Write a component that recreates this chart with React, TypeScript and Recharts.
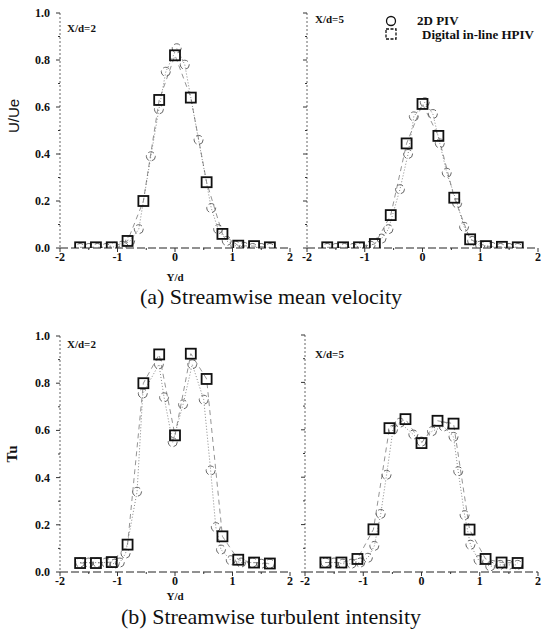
import React from "react";
import { ScatterChart, Scatter, XAxis, YAxis, Legend } from "recharts";

// Y/d stations of the holographic (HPIV) profiles, same in all four panels
const hpivPos = [-1.65, -1.375, -1.1, -0.825, -0.55, -0.275, 0, 0.275, 0.55, 0.825, 1.1, 1.375, 1.65];

// (a) mean velocity U/Ue, X/d = 2
const u2PivPos = [-1.65, -1.5, -1.35, -1.2, -1.05, -0.92, -0.78, -0.63, -0.42, -0.28, -0.16, 0.03, 0.17, 0.41, 0.63, 0.75, 0.9, 1.05, 1.2, 1.35, 1.5, 1.65];
const u2PivVal = [0, 0, 0, 0, 0.005, 0.01, 0.03, 0.08, 0.39, 0.59, 0.75, 0.85, 0.78, 0.46, 0.17, 0.08, 0.03, 0.01, 0.005, 0, 0, 0];
const u2HpivVal = [0.003, 0.003, 0.003, 0.03, 0.2, 0.63, 0.82, 0.64, 0.28, 0.06, 0.01, 0.008, 0.003];

// (a) mean velocity U/Ue, X/d = 5
const u5PivPos = [-1.65, -1.5, -1.35, -1.2, -1.05, -0.9, -0.71, -0.59, -0.39, -0.25, -0.15, 0.04, 0.18, 0.3, 0.42, 0.6, 0.72, 0.86, 1.0, 1.2, 1.35, 1.5, 1.65];
const u5PivVal = [0, 0, 0, 0, 0.003, 0.01, 0.04, 0.08, 0.25, 0.4, 0.56, 0.62, 0.57, 0.445, 0.32, 0.19, 0.09, 0.03, 0.01, 0.005, 0, 0, 0];
const u5HpivVal = [0.003, 0.003, 0.003, 0.017, 0.14, 0.445, 0.613, 0.477, 0.214, 0.037, 0.008, 0.005, 0.003];

// (b) turbulent intensity Tu, X/d = 2
const t2PivPos = [-1.65, -1.5, -1.35, -1.2, -1.05, -0.96, -0.86, -0.66, -0.56, -0.28, -0.19, -0.04, 0.14, 0.3, 0.5, 0.62, 0.71, 0.8, 0.97, 1.15, 1.35, 1.5, 1.65];
const t2PivVal = [0.04, 0.04, 0.04, 0.04, 0.035, 0.04, 0.078, 0.34, 0.756, 0.88, 0.74, 0.55, 0.71, 0.88, 0.73, 0.43, 0.19, 0.095, 0.05, 0.04, 0.04, 0.035, 0.035];
const t2HpivVal = [0.038, 0.038, 0.042, 0.116, 0.8, 0.922, 0.579, 0.925, 0.818, 0.151, 0.052, 0.04, 0.036];

// (b) turbulent intensity Tu, X/d = 5
const t5PivPos = [-1.65, -1.5, -1.35, -1.2, -1.05, -0.92, -0.81, -0.7, -0.6, -0.49, -0.37, -0.14, 0, 0.18, 0.38, 0.55, 0.63, 0.74, 0.84, 0.98, 1.18, 1.35, 1.5, 1.65];
const t5PivVal = [0.04, 0.04, 0.035, 0.035, 0.04, 0.06, 0.11, 0.245, 0.41, 0.6, 0.63, 0.58, 0.55, 0.594, 0.614, 0.57, 0.425, 0.24, 0.115, 0.05, 0.024, 0.03, 0.03, 0.03];
const t5HpivVal = [0.04, 0.04, 0.055, 0.18, 0.607, 0.645, 0.544, 0.638, 0.626, 0.179, 0.055, 0.04, 0.038];

const xTicks = [-2, -1.5, -1, -0.5, 0, 0.5, 1, 1.5, 2];
const xTickLabels = ["-2", "", "-1", "", "0", "", "1", "", "2"];
const yTicks = [0, 0.1, 0.2, 0.3, 0.4, 0.5, 0.6, 0.7, 0.8, 0.9, 1];
const yTickLabels = ["0.0", "", "0.2", "", "0.4", "", "0.6", "", "0.8", "", "1.0"];

const serif = "'Liberation Serif', 'Times New Roman', serif";
const sans = "'Liberation Sans', Arial, sans-serif";

type Pt = { x: number; y: number };
const pairs = (xs: number[], ys: number[]): Pt[] => xs.map((x, i) => ({ x, y: ys[i] }));

function XTick(props: any) {
  const { x, y, payload } = props;
  const label = xTickLabels[xTicks.indexOf(payload.value)];
  return (
    <g>
      <line x1={x} y1={y} x2={x} y2={y + (label ? 4 : 2)} stroke="#333" />
      {label ? (
        <text x={x} y={y + 13} textAnchor="middle" fontSize={12} fontWeight="bold" fontFamily={serif} fill="#111">
          {label}
        </text>
      ) : null}
    </g>
  );
}

const yTick = (showText: boolean) => (props: any) => {
  const { x, y, payload } = props;
  const i = yTicks.findIndex((t) => Math.abs(t - payload.value) < 1e-6);
  const label = yTickLabels[i];
  return (
    <g>
      <line x1={x - (label ? 4 : 2)} y1={y} x2={x} y2={y} stroke="#333" />
      {showText && label ? (
        <text x={x - 10} y={y + 4} textAnchor="end" fontSize={12} fontWeight="bold" fontFamily={serif} fill="#111">
          {label}
        </text>
      ) : null}
    </g>
  );
};

const OpenCircle = (p: any) => (
  <circle cx={p.cx} cy={p.cy} r={4.5} fill="none" stroke="#666" strokeWidth={1} strokeDasharray="6 3" />
);
const OpenSquare = (p: any) => (
  <rect x={p.cx - 5} y={p.cy - 5} width={10} height={10} fill="none" stroke="#111" strokeWidth={1.8} />
);

const legendContent = () => (
  <svg width={180} height={32}>
    <circle cx={14} cy={11} r={4.5} fill="none" stroke="#111" strokeWidth={1.3} />
    <text x={40} y={15} fontSize={13} fontWeight="bold" fontFamily={serif} fill="#111">2D PIV</text>
    <rect x={9} y={19} width={10} height={10} fill="none" stroke="#111" strokeWidth={1.3} strokeDasharray="3 1.5" />
    <text x={45} y={29} fontSize={13} fontWeight="bold" fontFamily={serif} fill="#111">Digital in-line HPIV</text>
  </svg>
);

type PanelProps = {
  left: number;
  top: number;
  width: number;
  right: number;
  xAxisHeight: number;
  piv: Pt[];
  hpiv: Pt[];
  showText: boolean;
  yTitle?: { text: string; x: number; y: number; font: string; size: number; bold: boolean };
  xTitleOffset?: number;
  legend?: boolean;
};

function Panel({ left, top, width, right, xAxisHeight, piv, hpiv, showText, yTitle, xTitleOffset, legend }: PanelProps) {
  return (
    <div style={{ position: "absolute", left, top }}>
      <ScatterChart width={width} height={290} margin={{ top: 13, right, bottom: 0, left: 0 }}>
        <XAxis
          type="number"
          dataKey="x"
          domain={[-2, 2]}
          ticks={xTicks}
          interval={0}
          allowDataOverflow
          height={xAxisHeight}
          tickSize={0}
          tickMargin={0}
          tickLine={false}
          tick={<XTick />}
          axisLine={{ stroke: "#222", strokeDasharray: "8 3" }}
          label={
            xTitleOffset !== undefined
              ? {
                  value: "Y/d",
                  position: "insideBottom",
                  offset: xTitleOffset,
                  style: { fontSize: 11, fontWeight: "bold", fontFamily: serif, fill: "#111" },
                }
              : undefined
          }
        />
        <YAxis
          type="number"
          dataKey="y"
          domain={[0, 1]}
          ticks={yTicks}
          interval={0}
          allowDataOverflow
          width={60}
          tickSize={0}
          tickMargin={0}
          tickLine={false}
          tick={yTick(showText)}
          axisLine={{ stroke: "#666", strokeDasharray: "2 2" }}
          label={
            yTitle
              ? {
                  content: () => (
                    <text
                      transform={`translate(${yTitle.x},${yTitle.y}) rotate(-90)`}
                      textAnchor="middle"
                      dominantBaseline="central"
                      fontSize={yTitle.size}
                      fontWeight={yTitle.bold ? "bold" : "normal"}
                      fontFamily={yTitle.font}
                      fill="#111"
                    >
                      {yTitle.text}
                    </text>
                  ),
                }
              : undefined
          }
        />
        {legend ? (
          <Legend
            layout="horizontal"
            verticalAlign="middle"
            align="center"
            content={legendContent}
            wrapperStyle={{ top: 10, left: 130, width: 180, height: 32 }}
          />
        ) : null}
        <Scatter
          name="2D PIV"
          data={piv}
          shape={OpenCircle}
          line={{ stroke: "#888", strokeWidth: 1, strokeDasharray: "1 2" }}
          isAnimationActive={false}
        />
        <Scatter
          name="Digital in-line HPIV"
          data={hpiv}
          shape={OpenSquare}
          line={{ stroke: "#666", strokeWidth: 0.7, strokeDasharray: "5 4" }}
          isAnimationActive={false}
        />
      </ScatterChart>
    </div>
  );
}

const tag = (text: string, left: number, top: number) => (
  <div
    style={{
      position: "absolute",
      left,
      top,
      fontFamily: serif,
      fontSize: 11,
      fontWeight: "bold",
      lineHeight: "12px",
      color: "#111",
    }}
  >
    {text}
  </div>
);

const caption = (text: string, top: number) => (
  <div
    style={{
      position: "absolute",
      left: 0,
      top,
      width: 542,
      textAlign: "center",
      fontFamily: serif,
      fontSize: 22,
      lineHeight: "22px",
      color: "#111",
    }}
  >
    {text}
  </div>
);

export default function App() {
  return (
    <div style={{ position: "absolute", left: 0, top: 0, width: 542, height: 638, background: "#fff", overflow: "hidden" }}>
      <Panel
        left={0}
        top={0}
        width={300}
        right={10}
        xAxisHeight={42}
        piv={pairs(u2PivPos, u2PivVal)}
        hpiv={pairs(hpivPos, u2HpivVal)}
        showText
        yTitle={{ text: "U/Ue", x: 13, y: 116, font: sans, size: 15, bold: false }}
        xTitleOffset={9}
      />
      <Panel
        left={247}
        top={0}
        width={295}
        right={4}
        xAxisHeight={42}
        piv={pairs(u5PivPos, u5PivVal)}
        hpiv={pairs(hpivPos, u5HpivVal)}
        showText={false}
        legend
      />
      <Panel
        left={0}
        top={323}
        width={300}
        right={10}
        xAxisHeight={41}
        piv={pairs(t2PivPos, t2PivVal)}
        hpiv={pairs(hpivPos, t2HpivVal)}
        showText
        yTitle={{ text: "Tu", x: 12, y: 131, font: serif, size: 15, bold: true }}
        xTitleOffset={13}
      />
      <Panel
        left={245}
        top={322}
        width={297}
        right={4}
        xAxisHeight={40}
        piv={pairs(t5PivPos, t5PivVal)}
        hpiv={pairs(hpivPos, t5HpivVal)}
        showText={false}
      />
      {tag("X/d=2", 67, 22)}
      {tag("X/d=5", 315, 13)}
      {tag("X/d=2", 67, 338)}
      {tag("X/d=5", 315, 348)}
      {caption("(a) Streamwise mean velocity", 286)}
      {caption("(b) Streamwise turbulent intensity", 606)}
    </div>
  );
}
